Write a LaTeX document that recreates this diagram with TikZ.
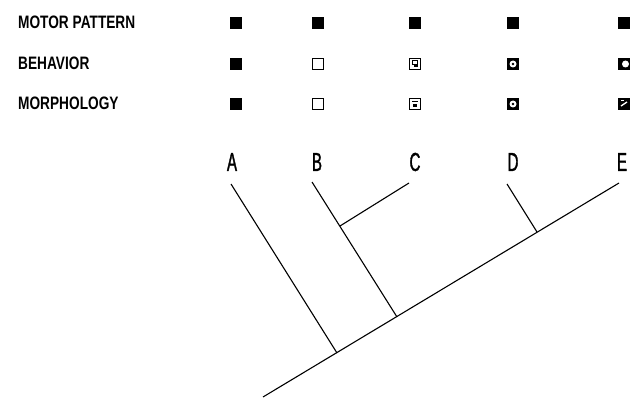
\documentclass[tikz,border=0pt]{standalone}
\usepackage{fontspec}
\setmainfont{Liberation Sans}
\newfontfamily\labfont[FakeStretch=0.76]{Liberation Sans}
\newfontfamily\taxfont[FakeStretch=0.58,FakeBold=1.2]{Liberation Sans}
\begin{document}
\begin{tikzpicture}[x=1pt,y=-1pt,
  lab/.style={anchor=west,inner sep=0pt,font=\labfont\bfseries\fontsize{18}{18}\selectfont},
  taxon/.style={inner sep=0pt,font=\taxfont\fontsize{26}{26}\selectfont},
  sq/.style={draw,line width=1.4pt,minimum size=11pt,inner sep=0pt},
  full/.style={sq,fill=black},
  open/.style={sq,fill=white},
  branch/.style={line width=1.1pt}]
\useasboundingbox (0,0) rectangle (634,403);
% character labels
\node[lab] (mp) at (18,22) {MOTOR PATTERN};
\node[lab] (bh) at (18,63) {BEHAVIOR};
\node[lab] (mo) at (18,103) {MORPHOLOGY};
% motor pattern row
\node[full] (mA) at (236,23) {};
\node[full] (mB) at (318,23) {};
\node[full] (mC) at (415,23) {};
\node[full] (mD) at (513,23) {};
\node[full] (mE) at (624,23) {};
% behavior row
\node[full] (bA) at (236,64) {};
\node[open] (bB) at (318,64) {};
\node[open] (bC) at (415,64) {};
\draw[line width=1pt] ([shift={(-2.5,-3)}]bC.center) rectangle ([shift={(2.5,1)}]bC.center);
\fill ([shift={(-1.5,1.5)}]bC.center) rectangle ([shift={(2.5,3.2)}]bC.center);
\node[full] (bD) at (513,64) {};
\fill[white] (bD.center) circle (3.5pt);
\fill (bD.center) circle (1.4pt);
\node[full] (bE) at (624,64) {};
\fill[white] ([shift={(1.5,0)}]bE.center) circle (3.5pt);
% morphology row
\node[full] (oA) at (236,104) {};
\node[open] (oB) at (318,104) {};
\node[open] (oC) at (415,104) {};
\draw[line width=1pt] ([shift={(-3,-2.5)}]oC.center) -- ([shift={(3,-2.5)}]oC.center);
\fill ([shift={(-2,0.5)}]oC.center) rectangle ([shift={(2,3.2)}]oC.center);
\node[full] (oD) at (513,104) {};
\fill[white] (oD.center) circle (3.5pt);
\fill (oD.center) circle (1.4pt);
\node[full] (oE) at (624,104) {};
\draw[white,line width=1.3pt] ([shift={(-3,2)}]oE.center) -- ([shift={(3,-2)}]oE.center);
\draw[white,line width=1pt] ([shift={(-3,-3)}]oE.center) -- ([shift={(0,-3)}]oE.center);
% taxa
\node[taxon] (A) at (232,162) {A};
\node[taxon] (B) at (317,162) {B};
\node[taxon] (C) at (415,162) {C};
\node[taxon] (D) at (513,162) {D};
\node[taxon] (E) at (622,162) {E};
% tree
\coordinate (root) at (263,397);
\coordinate (tE) at (619,183);
\coordinate (tA) at (231,184);
\coordinate (tB) at (312,182);
\coordinate (tC) at (409,183);
\coordinate (tD) at (507,184);
\coordinate (nA) at (337,353);
\coordinate (nB) at (397,317);
\coordinate (nC) at (340,226);
\coordinate (nD) at (537,232);
\draw[branch] (root) -- (tE);
\draw[branch] (tA) -- (nA);
\draw[branch] (tB) -- (nB);
\draw[branch] (nC) -- (tC);
\draw[branch] (tD) -- (nD);
\end{tikzpicture}
\end{document}
